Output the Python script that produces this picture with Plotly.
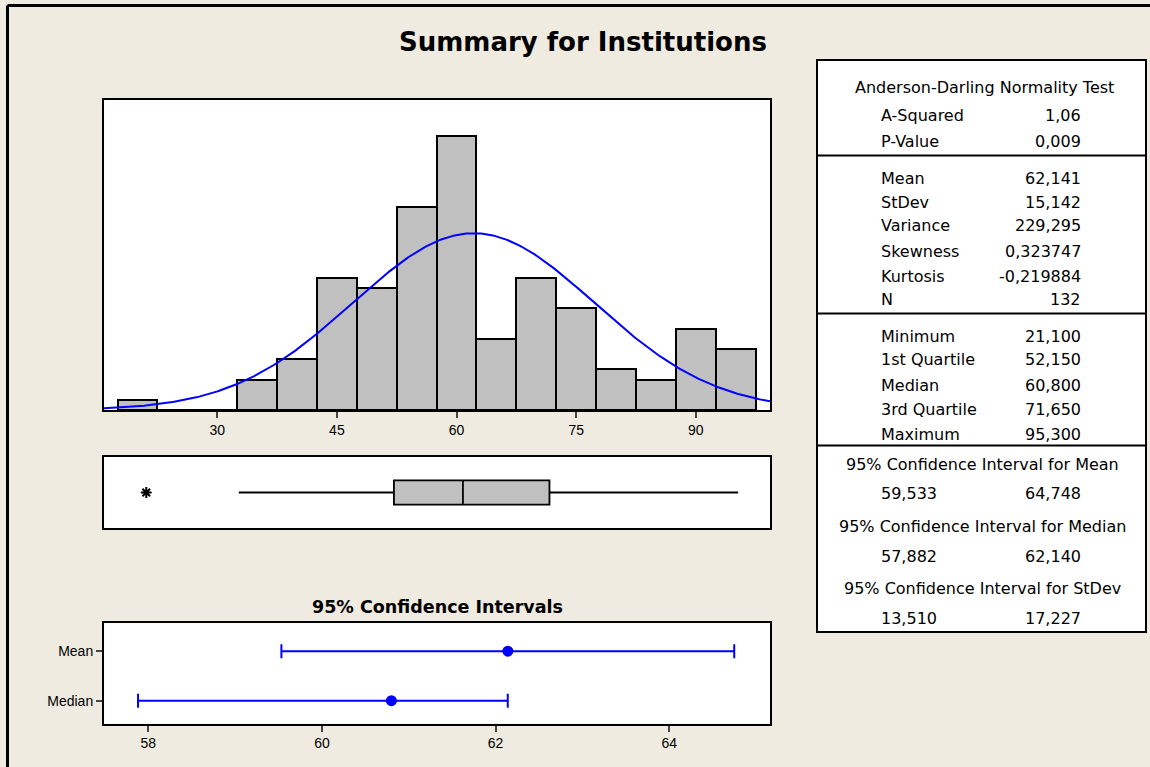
import numpy as np
import plotly.graph_objects as go

W, H = 1150, 767

# ---------------- data ----------------
bin_centers = [20, 25, 30, 35, 40, 45, 50, 55, 60, 65, 70, 75, 80, 85, 90, 95]
bin_counts = [1, 0, 0, 3, 5, 13, 12, 20, 27, 7, 13, 10, 4, 3, 8, 6]
bin_width = 5
hist_ticks = [30, 45, 60, 75, 90]

mean_val = 62.141
stdev_val = 15.142
n_val = 132

box_q1 = 52.15
box_median = 60.8
box_q3 = 71.65
box_low_whisker = 32.7
box_high_whisker = 95.3
box_outliers = [21.1]

ci_labels = ["Mean", "Median"]
ci_center = [62.141, 60.8]
ci_low = [59.533, 57.882]
ci_high = [64.748, 62.140]
ci_ticks = [58, 60, 62, 64]

stats_rows_1 = [("A-Squared", "1,06"), ("P-Value", "0,009")]
stats_rows_2 = [("Mean", "62,141"), ("StDev", "15,142"), ("Variance", "229,295"),
                ("Skewness", "0,323747"), ("Kurtosis", "-0,219884"), ("N", "132")]
stats_rows_3 = [("Minimum", "21,100"), ("1st Quartile", "52,150"), ("Median", "60,800"),
                ("3rd Quartile", "71,650"), ("Maximum", "95,300")]
ci_rows = [("95% Confidence Interval for Mean", "59,533", "64,748"),
           ("95% Confidence Interval for Median", "57,882", "62,140"),
           ("95% Confidence Interval for StDev", "13,510", "17,227")]

# ---------------- helpers ----------------
def fx(px):
    return px / W

def fy(py):
    return 1 - py / H

BG = "#EFEBE1"
BLUE = "#0000FF"
GRAY = "#C0C0C0"
TICKFONT = dict(family="Liberation Sans, Arial, sans-serif", size=14, color="black")
TABFONT = dict(family="DejaVu Sans, Verdana, sans-serif", size=16, color="black")

xr_hist = [15.8, 99.3]

fig = go.Figure()

# histogram bars
fig.add_trace(go.Bar(
    x=bin_centers, y=bin_counts, width=bin_width,
    marker=dict(color=GRAY, line=dict(color="black", width=2)),
    xaxis="x", yaxis="y", showlegend=False, hoverinfo="skip"))

# fitted normal curve
xc = np.linspace(xr_hist[0], xr_hist[1], 400)
yc = n_val * bin_width / (stdev_val * np.sqrt(2 * np.pi)) * np.exp(-0.5 * ((xc - mean_val) / stdev_val) ** 2)
fig.add_trace(go.Scatter(x=xc, y=yc, mode="lines", line=dict(color=BLUE, width=2),
                         xaxis="x", yaxis="y", showlegend=False, hoverinfo="skip"))

# boxplot
fig.add_trace(go.Box(
    y=[0], q1=[box_q1], median=[box_median], q3=[box_q3],
    lowerfence=[box_low_whisker], upperfence=[box_high_whisker],
    orientation="h", width=0.34, whiskerwidth=0, boxpoints=False,
    fillcolor=GRAY, line=dict(color="black", width=1.8),
    xaxis="x2", yaxis="y2", showlegend=False, hoverinfo="skip"))
fig.add_trace(go.Scatter(
    x=box_outliers, y=[0] * len(box_outliers), mode="markers",
    marker=dict(symbol="asterisk-open", size=9, color="black",
                line=dict(color="black", width=2)),
    xaxis="x2", yaxis="y2", showlegend=False, hoverinfo="skip"))

# confidence intervals
fig.add_trace(go.Scatter(
    x=ci_center, y=ci_labels, mode="markers",
    marker=dict(color=BLUE, size=11),
    error_x=dict(type="data", symmetric=False,
                 array=[h - c for h, c in zip(ci_high, ci_center)],
                 arrayminus=[c - l for c, l in zip(ci_center, ci_low)],
                 color=BLUE, thickness=2, width=7),
    xaxis="x3", yaxis="y3", showlegend=False, hoverinfo="skip"))

frame = dict(showline=True, linecolor="black", linewidth=2, mirror=True,
             showgrid=False, zeroline=False)

xdom = [fx(104), fx(770)]
fig.update_layout(
    width=W, height=H, margin=dict(l=0, r=0, t=0, b=0),
    paper_bgcolor=BG, plot_bgcolor="white", bargap=0,
    xaxis=dict(domain=xdom, range=xr_hist, tickvals=hist_ticks, ticks="outside",
               ticklen=6, tickwidth=2, tickfont=TICKFONT, anchor="y", **frame),
    yaxis=dict(domain=[fy(410), fy(100)], range=[0, 30.5], showticklabels=False,
               ticks="", anchor="x", **frame),
    xaxis2=dict(domain=xdom, range=xr_hist, showticklabels=False, ticks="",
                anchor="y2", **frame),
    yaxis2=dict(domain=[fy(528), fy(457)], range=[-0.5, 0.5], showticklabels=False,
                ticks="", anchor="x2", **frame),
    xaxis3=dict(domain=xdom, range=[57.49, 65.16], tickvals=ci_ticks, ticks="outside",
                ticklen=6, tickwidth=2, tickfont=TICKFONT, anchor="y3", **frame),
    yaxis3=dict(domain=[fy(723.5), fy(623)], type="category",
                categoryorder="array", categoryarray=["Median", "Mean"],
                range=[-0.46, 1.57], ticks="outside", ticklen=6, tickwidth=2,
                tickfont=TICKFONT, anchor="x3", **frame),
)

shapes = []
# outer frame lines (top and left)
shapes.append(dict(type="line", xref="paper", yref="paper", x0=fx(7.5), x1=1.0,
                   y0=fy(5.5), y1=fy(5.5), line=dict(color="black", width=3)))
shapes.append(dict(type="line", xref="paper", yref="paper", x0=fx(7.5), x1=fx(7.5),
                   y0=0, y1=fy(5.5), line=dict(color="black", width=3)))
# stats table box
shapes.append(dict(type="rect", xref="paper", yref="paper", x0=fx(817), x1=fx(1146),
                   y0=fy(632), y1=fy(60), fillcolor="white",
                   line=dict(color="black", width=2), layer="below"))
for yy in [155.5, 313.5, 445.5]:
    shapes.append(dict(type="line", xref="paper", yref="paper", x0=fx(817), x1=fx(1146),
                       y0=fy(yy), y1=fy(yy), line=dict(color="black", width=2)))

ann = []
ann.append(dict(text="Summary for Institutions", x=fx(583), y=fy(42), xref="paper",
                yref="paper", xanchor="center", yanchor="middle", showarrow=False,
                font=dict(family="DejaVu Sans, Verdana, sans-serif", size=26,
                          color="black", weight="bold")))
ann.append(dict(text="95% Confidence Intervals", x=fx(437), y=fy(607), xref="paper",
                yref="paper", xanchor="center", yanchor="middle", showarrow=False,
                font=dict(family="DejaVu Sans, Verdana, sans-serif", size=17.5,
                          color="black", weight="bold")))

LX, RX, CX = 879, 1083, 984

def label(text, x, y, anchor):
    ann.append(dict(text=text, x=fx(x), y=fy(y), xref="paper", yref="paper",
                    xanchor=anchor, yanchor="middle", showarrow=False, font=TABFONT))

label("Anderson-Darling Normality Test", CX, 87, "center")
for (name, val), yy in zip(stats_rows_1, [116, 141]):
    label(name, LX, yy, "left")
    label(val, RX, yy, "right")
for (name, val), yy in zip(stats_rows_2, [178, 202, 226, 251, 276, 300]):
    label(name, LX, yy, "left")
    label(val, RX, yy, "right")
for (name, val), yy in zip(stats_rows_3, [336, 360, 385, 410, 434]):
    label(name, LX, yy, "left")
    label(val, RX, yy, "right")
for (head, lo, hi), yh in zip(ci_rows, [464, 526, 588]):
    label(head, CX - 2, yh, "center")
    label(lo, LX, yh + 30, "left")
    label(hi, RX, yh + 30, "right")

fig.update_layout(shapes=shapes, annotations=ann)
fig.write_html(
    "out.html",
    config={"displayModeBar": False},
    post_script=("document.body.style.margin='0px';"
                 "document.body.style.padding='0px';"
                 "document.body.style.overflow='hidden';"
                 "document.body.style.background='" + BG + "';"),
)
